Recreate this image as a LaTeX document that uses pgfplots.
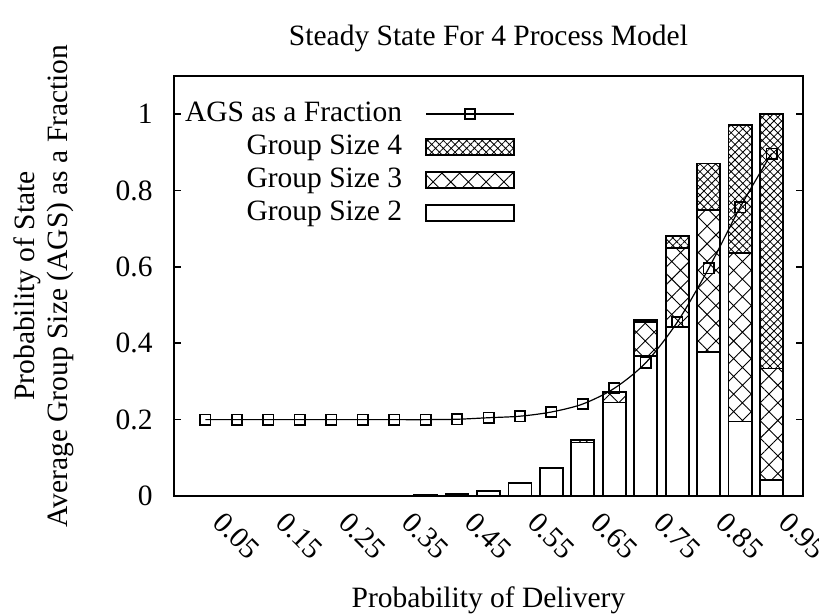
\documentclass[border=0pt]{standalone}
\usepackage{pgfplots}
\pgfplotsset{compat=1.18}
\usepackage{pgfplotstable}
\usepackage{fontspec}
\setmainfont{Liberation Serif}
\usetikzlibrary{patterns.meta}

\pgfplotstableread{
x     gtwo    gthree  gfour   ags
0.05  0.0000  0.0000  0.0000  0.200
0.10  0.0000  0.0000  0.0000  0.200
0.15  0.0000  0.0000  0.0000  0.200
0.20  0.0000  0.0000  0.0000  0.200
0.25  0.0003  0.0000  0.0000  0.200
0.30  0.0007  0.0000  0.0000  0.200
0.35  0.0015  0.0000  0.0000  0.200
0.40  0.0030  0.0000  0.0000  0.200
0.45  0.0060  0.0000  0.0000  0.201
0.50  0.0140  0.0000  0.0000  0.205
0.55  0.0350  0.0005  0.0000  0.209
0.60  0.0720  0.0015  0.0000  0.220
0.65  0.1400  0.0060  0.0002  0.241
0.70  0.2450  0.0260  0.0010  0.282
0.75  0.3670  0.0880  0.0060  0.349
0.80  0.4430  0.2070  0.0310  0.455
0.85  0.3780  0.3710  0.1220  0.596
0.90  0.1950  0.4420  0.3340  0.756
0.95  0.0420  0.2920  0.6660  0.897
}\datatable

\pgfplotsset{
  common/.style={
    width=314.5bp, height=210bp, scale only axis,
    at={(0,0)}, anchor=south west,
    xmin=0, xmax=1, ymin=0, ymax=1.1,
  },
  boxlegend/.style={legend image code/.code={\draw[##1] (0bp,-4.1bp) rectangle (44bp,4.1bp);}},
  agslegend/.style={legend image code/.code={%
    \draw[##1,/tikz/sharp plot,/tikz/mark=none] (0bp,0bp) -- (44bp,0bp);
    \draw[##1,/tikz/sharp plot] plot coordinates {(22bp,0bp)};}},
}

\begin{document}
\fontsize{14.75bp}{17.7bp}\selectfont
\begin{tikzpicture}
\begin{axis}[common,
  ybar stacked, bar width=0.0366,
  axis line style={line width=1bp},
  xtick={0.05,0.15,0.25,0.35,0.45,0.55,0.65,0.75,0.85,0.95},
  xticklabels={0.05,0.15,0.25,0.35,0.45,0.55,0.65,0.75,0.85,0.95},
  xtick style={draw=none},
  xticklabel style={yshift=-14bp, xshift=3bp, rotate=-45, anchor=base west, inner sep=0pt},
  ytick={0,0.2,0.4,0.6,0.8,1},
  yticklabels={0,0.2,0.4,0.6,0.8,1},
  ytick style={line width=0.8bp, black},
  major tick length=3.5bp,
  tick align=inside,
  yticklabel style={anchor=east, inner sep=0pt, xshift=-10.5bp},
  title={Steady State For 4 Process Model},
  title style={at={(axis description cs:0.5,1.043)}, anchor=base, inner sep=0pt},
  xlabel={Probability of Delivery},
  xlabel style={at={(axis description cs:0.5,-0.2643)}, anchor=base, inner sep=0pt},
  ylabel={Probability of State\\Average Group Size (AGS) as a Fraction},
  ylabel style={at={(axis description cs:-0.1583,0.5)}, anchor=south, inner sep=0pt, align=center, font=\fontsize{14.75bp}{16.5bp}\selectfont},
  legend style={at={(axis description cs:0.5421,0.938)}, anchor=north east, draw=none, fill=none,
    inner sep=0pt, outer sep=0pt, column sep=11.5bp, row sep=4.5bp, nodes={inner sep=0pt}},
  legend cell align=right,
  legend plot pos=right,
  reverse legend,
]
\addplot[boxlegend, draw=black, line width=0.9bp, fill=white] table[x=x,y=gtwo]{\datatable};
\addlegendentry{Group Size 2}
\addplot[boxlegend, draw=black, line width=0.9bp, pattern={Hatch[angle=45,distance=6.25bp,line width=0.45bp]}] table[x=x,y=gthree]{\datatable};
\addlegendentry{Group Size 3}
\addplot[boxlegend, draw=black, line width=0.9bp, pattern={Hatch[angle=45,distance=2.75bp,line width=0.4bp]}] table[x=x,y=gfour]{\datatable};
\addlegendentry{Group Size 4}
\addlegendimage{agslegend, line width=0.6bp, mark=square, mark size=2.6bp, mark options={line width=0.8bp}}
\addlegendentry{AGS as a Fraction}
\end{axis}
\begin{axis}[common, hide axis]
\addplot[smooth, line width=0.6bp, mark=square, mark size=2.6bp, mark options={line width=0.8bp}] table[x=x,y=ags]{\datatable};
\end{axis}
\pgfresetboundingbox
\path (-87bp,-59.5bp) rectangle (322.5bp,248bp);
\end{tikzpicture}
\end{document}
